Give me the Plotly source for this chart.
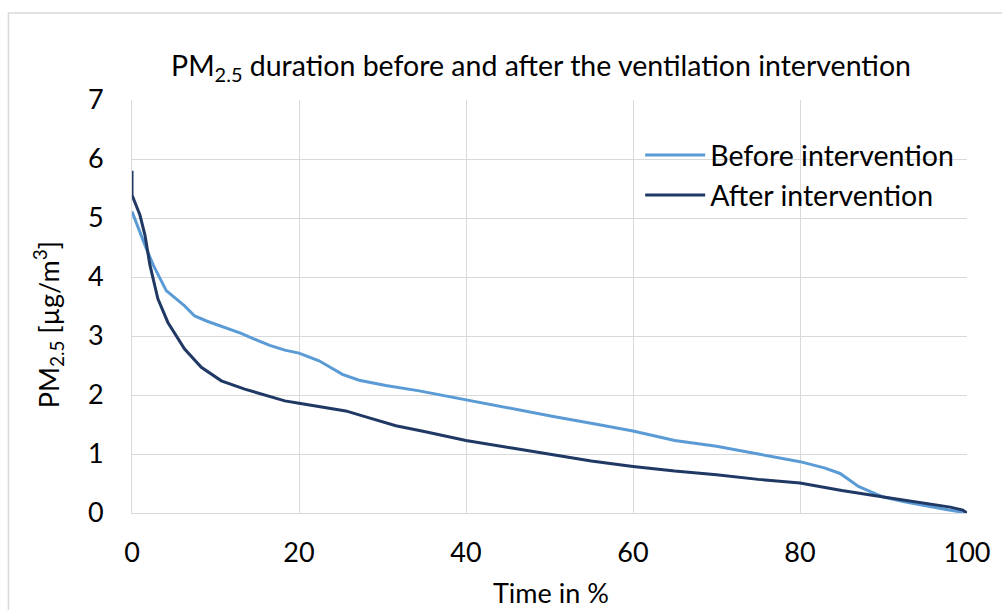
import plotly.graph_objects as go

# Cumulative duration curves of PM2.5 concentration (time share in %, concentration in µg/m³)
time_before = [0, 0.75, 1.55, 2.55, 4.1, 6.3, 7.5, 9, 11.1, 13, 15.1, 16.5, 18.3, 20, 22.4,
               25.2, 27.2, 30.4, 34.4, 40, 46.3, 50.3, 55.8, 60, 65, 70, 75, 80, 83, 84.8,
               86, 87, 88.5, 90, 92.5, 95, 97.5, 100]
pm_before = [5.11, 4.82, 4.54, 4.20, 3.77, 3.51, 3.34, 3.25, 3.15, 3.05, 2.92, 2.84, 2.76, 2.71, 2.58,
             2.35, 2.25, 2.16, 2.07, 1.92, 1.74, 1.64, 1.50, 1.39, 1.23, 1.13, 1.00, 0.87, 0.76, 0.67,
             0.55, 0.45, 0.36, 0.27, 0.19, 0.12, 0.06, 0.0]

time_after = [0, 0, 0.95, 1.55, 2.15, 3.1, 4.3, 6.3, 8.3, 10.7, 13.5, 18.3, 20, 22.5, 25.6,
              28, 31.6, 35, 40, 45.5, 51.5, 55, 60, 65, 70, 75, 80, 85, 90, 95, 98, 99.5, 100]
pm_after = [5.80, 5.39, 5.05, 4.71, 4.20, 3.63, 3.23, 2.78, 2.47, 2.24, 2.10, 1.90, 1.86, 1.80, 1.73,
            1.63, 1.48, 1.38, 1.23, 1.10, 0.96, 0.88, 0.79, 0.71, 0.65, 0.57, 0.51, 0.38, 0.27, 0.16,
            0.10, 0.05, 0.0]

x_ticks = [0, 20, 40, 60, 80, 100]
y_ticks = [0, 1, 2, 3, 4, 5, 6, 7]

FONT = "Lato"
TEXT = "#000000"
GRID = "#D9D9D9"

W, H = 1002, 610
L, R, T, B = 132, 32, 100, 97
pw, ph = W - L - R, H - T - B


def px_x(px):
    return (px - L) / pw


def px_y(py):
    return (H - B - py) / ph


fig = go.Figure()
fig.add_trace(go.Scatter(x=time_before, y=pm_before, mode="lines", name="Before intervention",
                         line=dict(color="#5B9BD5", width=3)))
fig.add_trace(go.Scatter(x=time_after, y=pm_after, mode="lines", name="After intervention",
                         line=dict(color="#1F3864", width=3)))

fig.update_layout(
    width=W, height=H,
    margin=dict(l=L, r=R, t=T, b=B),
    paper_bgcolor="white", plot_bgcolor="white",
    font=dict(family=FONT, color=TEXT),
    title=dict(text="PM<sub>2.5</sub> duration before and after the ventilation intervention",
               x=541 / W, y=1 - 66 / H, xanchor="center", yanchor="middle",
               font=dict(size=28.5, family=FONT, color=TEXT)),
    xaxis=dict(range=[0, 100], tickvals=x_ticks, showgrid=True, gridcolor=GRID, gridwidth=1,
               zeroline=False, showline=True, linecolor=GRID, ticks="",
               tickfont=dict(size=27, family=FONT, color=TEXT), ticklabelstandoff=16,
               mirror=False),
    yaxis=dict(range=[0, 7], tickvals=y_ticks, showgrid=True, gridcolor=GRID, gridwidth=1,
               zeroline=False, showline=True, linecolor=GRID, ticks="",
               tickfont=dict(size=27, family=FONT, color=TEXT), ticklabelstandoff=22),
    legend=dict(x=px_x(642), y=px_y(130), xanchor="left", yanchor="top",
                bgcolor="rgba(0,0,0,0)", font=dict(size=28.5, family=FONT, color=TEXT),
                tracegroupgap=0, itemwidth=60),
    showlegend=True,
)

# axis titles
fig.add_annotation(text="Time in %", xref="paper", yref="paper",
                   x=px_x(553), y=px_y(592), xanchor="center", yanchor="middle",
                   showarrow=False, font=dict(size=27, family=FONT, color=TEXT))
fig.add_annotation(text="PM<sub>2.5</sub> [µg/m<sup>3</sup>]", xref="paper", yref="paper",
                   x=px_x(48), y=px_y(325), xanchor="center", yanchor="middle", textangle=-90,
                   showarrow=False, font=dict(size=27, family=FONT, color=TEXT))

# outer chart frame
fig.add_shape(type="rect", xref="paper", yref="paper",
              x0=px_x(8), y0=px_y(640), x1=px_x(1030), y1=px_y(13),
              line=dict(color=GRID, width=1.5), fillcolor="rgba(0,0,0,0)", layer="below")

fig.write_html("out.html")
